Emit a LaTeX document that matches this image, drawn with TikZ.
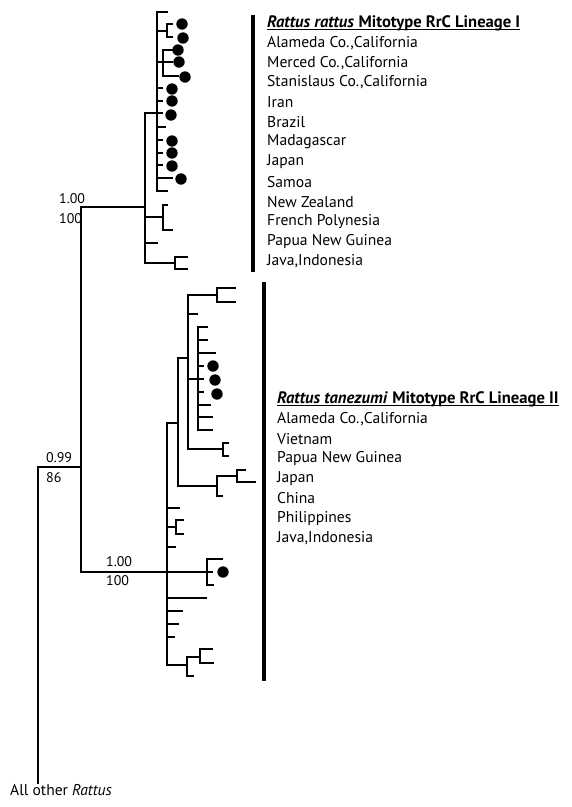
\documentclass[tikz,border=0pt]{standalone}
\usepackage{fontspec}
\setmainfont{PT Sans}
\usetikzlibrary{positioning}
\tikzset{
  br/.style={line width=2.7pt,line cap=rect},
  bar/.style={line width=3.4pt},
  tipdot/.style={fill=black},
  uln/.style={line width=1.1pt},
  lab/.style={anchor=west,inner sep=0pt,font=\fontsize{15.6}{18}\selectfont},
  head/.style={lab,font=\fontsize{16.6}{18}\selectfont},
  supp/.style={anchor=west,inner sep=0pt,font=\fontsize{14}{16}\selectfont},
}

\begin{document}
\begin{tikzpicture}[x=1pt,y=-1pt]
\useasboundingbox (0,0) rectangle (572,807);
% backbone
\draw[br] (38,783) -- (38,467) -- (81,467);
\draw[br] (145,207) -| (81,572) -- (167,572);
\node[supp] (b0) at (46,458) {0.99};
\node[supp] (p0) at (46,478) {86};
\node[supp] (b1) at (59,199) {1.00};
\node[supp] (p1) at (59,219) {100};
\node[supp] (b2) at (106,562) {1.00};
\node[supp] (p2) at (106,581) {100};
\node[lab] (other) at (10,790) {All other \textit{Rattus}};

% lineage I
\draw[br] (145,113) -- (145,263);
\draw[br] (145,113) -- (162,113);
\draw[br] (157,12) -- (157,191);
\foreach \y/\x in {12/167,31/167,62/172,88/162,101/162,127/165,140/162,153/162,165/162,178/172,191/167}
  \draw[br] (157,\y) -- (\x,\y);
\draw[br] (172,24) -| (167,37) -- (172,37);
\draw[br] (172,50) -| (163,76) -- (178,76);
\draw[br] (145,217) -- (163,217);
\draw[br] (167,205) -| (163,230) -- (172,230);
\draw[br] (145,243) -- (157,243);
\draw[br] (145,263) -- (175,263);
\draw[br] (187,257) -| (175,269) -- (187,269);
\foreach \x/\y in {182/24,183/38,178/50,179/62,185/77,172/89,172/101,171/115,172/141,172/153,172/166,181/179}
  \fill[tipdot] (\x,\y) circle[radius=5.7pt];
\draw[bar] (253,15) -- (253,272);
\node[head] (rr0) at (267,23) {\textbf{\textit{Rattus rattus}} \textbf{Mitotype RrC Lineage I}};
\draw[uln] ([yshift=-2pt]rr0.base west) -- ([yshift=-2pt]rr0.base east);
\foreach \t [count=\i] in {{Alameda Co.,California},{Merced Co.,California},{Stanislaus Co.,California},Iran,Brazil,Madagascar,Japan,Samoa,New Zealand,French Polynesia,Papua New Guinea,{Java,Indonesia}}
  \node[lab] (rr\i) at (267,23+19.85*\i) {\t};

% lineage II
\draw[br] (167,423) -- (167,665);
\draw[br] (167,423) -- (178,423);
\draw[br] (178,358) -- (178,485);
\draw[br] (178,358) -- (188,358);
\draw[br] (188,295) -- (188,449);
\draw[br] (188,295) -- (217,295);
\draw[br] (235,288) -| (217,302) -- (235,302);
\draw[br] (188,314) -- (197,314);
\draw[br] (188,379) -- (198,379);
\draw[br] (198,327) -- (198,430);
\foreach \y/\x in {327/207,340/207,353/215,366/203,379/203,392/203,405/210,417/212,430/212}
  \draw[br] (198,\y) -- (\x,\y);
\draw[br] (188,449) -- (223,449);
\draw[br] (228,443) -| (223,456) -- (228,456);
\draw[br] (178,486) -- (217,486);
\draw[br] (237,476) -| (217,496) -- (222,496);
\draw[br] (245,470) -| (237,482) -- (255,482);
\foreach \y/\x in {508/179,547/175,598/206,611/182,624/178,637/174}
  \draw[br] (167,\y) -- (\x,\y);
\draw[br] (167,527) -- (176,527);
\draw[br] (183,520) -| (176,534) -- (183,534);
\draw[br] (167,572) -- (212,572);
\draw[br] (222,559) -| (207,585) -- (213,585);
\draw[br] (167,665) -- (187,665);
\draw[br] (187,657) -- (187,676) -- (193,676);
\draw[br] (187,657) -- (200,657);
\draw[br] (212,649) -| (200,663) -- (213,663);
\foreach \x/\y in {213/366,215/380,217/394,223/572}
  \fill[tipdot] (\x,\y) circle[radius=5.7pt];
\draw[bar] (264,282) -- (264,681);
\node[head] (rt0) at (277,399) {\textbf{\textit{Rattus tanezumi}} \textbf{Mitotype RrC Lineage II}};
\draw[uln] ([yshift=-2pt]rt0.base west) -- ([yshift=-2pt]rt0.base east);
\foreach \t [count=\i] in {{Alameda Co.,California},Vietnam,Papua New Guinea,Japan,China,Philippines,{Java,Indonesia}}
  \node[lab] (rt\i) at (277,399+19.85*\i) {\t};
\end{tikzpicture}
\end{document}
